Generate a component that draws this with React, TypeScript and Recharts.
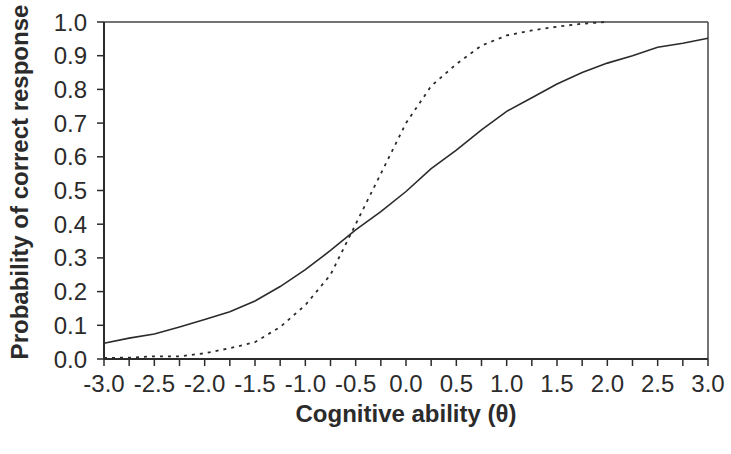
import { LineChart, Line, XAxis, YAxis, ReferenceLine } from 'recharts';

const thetas = [
  -3, -2.75, -2.5, -2.25, -2, -1.75, -1.5, -1.25, -1, -0.75, -0.5, -0.25, 0,
  0.25, 0.5, 0.75, 1, 1.25, 1.5, 1.75, 2, 2.25, 2.5, 2.75, 3,
];
const solidProb = [
  0.047, 0.062, 0.074, 0.095, 0.117, 0.14, 0.172, 0.215, 0.265, 0.322, 0.383,
  0.437, 0.497, 0.565, 0.62, 0.68, 0.735, 0.775, 0.816, 0.85, 0.878, 0.9,
  0.925, 0.937, 0.952,
];
const dashedProb = [
  0.003, 0.004, 0.008, 0.008, 0.017, 0.032, 0.05, 0.095, 0.16, 0.25, 0.4, 0.55,
  0.7, 0.81, 0.875, 0.93, 0.96, 0.975, 0.986, 0.995, 1.0, null, null, null, null,
];
const yTicks = [0, 0.1, 0.2, 0.3, 0.4, 0.5, 0.6, 0.7, 0.8, 0.9, 1];

const data = thetas.map((t, i) => ({ theta: t, solid: solidProb[i], dashed: dashedProb[i] }));

const ink = '#2b2b2b';
const font = '"Liberation Sans", Arial, Helvetica, sans-serif';

// only every second tick (multiples of 0.5) gets a label
function XTick({ x, y, payload }: any) {
  const v = payload.value as number;
  if (Math.abs(v * 2 - Math.round(v * 2)) > 1e-6) return <g />;
  return (
    <text x={x} y={y} dy="0.71em" textAnchor="middle" fill={ink} fontSize={24} fontFamily={font}>
      {v.toFixed(1)}
    </text>
  );
}

export default function App() {
  return (
    <div style={{ position: 'absolute', left: 0, top: 0 }}>
      <LineChart
        width={731}
        height={454}
        data={data}
        margin={{ top: 22, right: 23, left: 0, bottom: 0 }}
      >
        <XAxis
          type="number"
          dataKey="theta"
          domain={[-3, 3]}
          ticks={thetas}
          interval={0}
          height={95}
          tick={<XTick />}
          tickSize={7}
          tickMargin={9}
          axisLine={{ stroke: ink, strokeWidth: 2 }}
          tickLine={{ stroke: ink, strokeWidth: 1.5 }}
          label={{
            content: () => (
              <text x={406} y={422} textAnchor="middle" fill={ink} fontSize={24} fontWeight="bold" fontFamily={font}>
                Cognitive ability (θ)
              </text>
            ),
          }}
        />
        <YAxis
          type="number"
          domain={[0, 1]}
          ticks={yTicks}
          interval={0}
          width={104}
          tickFormatter={(v) => v.toFixed(1)}
          tick={{ fill: ink, fontSize: 24, fontFamily: font }}
          tickSize={7}
          tickMargin={10}
          axisLine={{ stroke: ink, strokeWidth: 2 }}
          tickLine={{ stroke: ink, strokeWidth: 1.5 }}
          label={{
            content: () => (
              <text
                x={28}
                y={182}
                transform="rotate(-90 28 182)"
                textAnchor="middle"
                fill={ink}
                fontSize={24}
                fontWeight="bold"
                fontFamily={font}
              >
                Probability of correct response
              </text>
            ),
          }}
        />
        <ReferenceLine y={1} stroke="#444" strokeWidth={1.5} />
        <ReferenceLine x={3} stroke="#444" strokeWidth={1.5} />
        <Line
          type="linear"
          dataKey="solid"
          stroke={ink}
          strokeWidth={1.6}
          dot={false}
          isAnimationActive={false}
        />
        <Line
          type="linear"
          dataKey="dashed"
          stroke={ink}
          strokeWidth={1.8}
          strokeDasharray="3 5"
          dot={false}
          connectNulls={false}
          isAnimationActive={false}
        />
      </LineChart>
    </div>
  );
}
